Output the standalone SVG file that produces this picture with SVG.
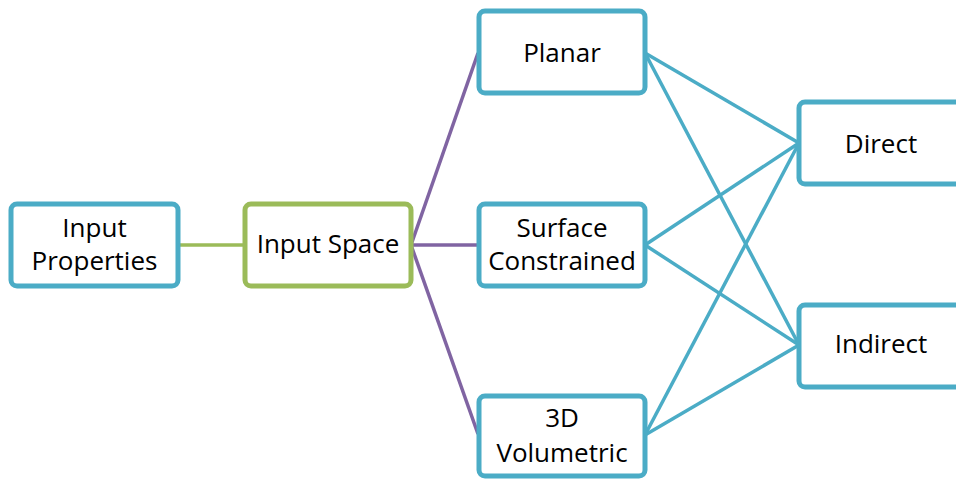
<svg xmlns="http://www.w3.org/2000/svg" width="956" height="479" viewBox="0 0 956 479">
<style>
.box{fill:#fff;stroke-width:5}
.b{stroke:#4BACC6}
.g{stroke:#9BBB59}
.t{font-family:"Open Sans","Noto Sans",sans-serif;font-size:26px;fill:#000;text-anchor:middle}
.cb{stroke:#4BACC6;stroke-width:3.5;fill:none}
.cp{stroke:#8064A2;stroke-width:3.5;fill:none}
.cg{stroke:#9BBB59;stroke-width:3.5;fill:none}
</style>
<rect width="956" height="479" fill="#fff"/>
<g id="connectors">
<line class="cg" x1="178" y1="245" x2="245" y2="245"/>
<line class="cp" x1="411" y1="245" x2="478" y2="53"/>
<line class="cp" x1="411" y1="245" x2="479" y2="245"/>
<line class="cp" x1="411" y1="245" x2="478" y2="434"/>
<line class="cb" x1="645" y1="53" x2="799" y2="143"/>
<line class="cb" x1="645" y1="53" x2="799" y2="345"/>
<line class="cb" x1="645" y1="245" x2="799" y2="143"/>
<line class="cb" x1="645" y1="245" x2="799" y2="345"/>
<line class="cb" x1="645" y1="435" x2="799" y2="143"/>
<line class="cb" x1="645" y1="435" x2="799" y2="345"/>
</g>
<g id="input-properties">
<rect class="box b" x="11" y="204" width="167" height="82" rx="6"/>
<text class="t" x="94.5" y="237">Input</text>
<text class="t" x="94.5" y="270">Properties</text>
</g>
<g id="input-space">
<rect class="box g" x="245" y="204" width="166" height="82" rx="6"/>
<text class="t" x="328" y="253">Input Space</text>
</g>
<g id="planar">
<rect class="box b" x="479" y="11" width="166" height="82" rx="6"/>
<text class="t" x="562" y="62">Planar</text>
</g>
<g id="surface-constrained">
<rect class="box b" x="479" y="204" width="166" height="82" rx="6"/>
<text class="t" x="562" y="237">Surface</text>
<text class="t" x="562" y="270">Constrained</text>
</g>
<g id="volumetric">
<rect class="box b" x="479" y="396" width="166" height="80" rx="6"/>
<text class="t" x="562" y="427">3D</text>
<text class="t" x="562" y="462">Volumetric</text>
</g>
<g id="direct">
<rect class="box b" x="799" y="102" width="170" height="82" rx="6"/>
<text class="t" x="881" y="153">Direct</text>
</g>
<g id="indirect">
<rect class="box b" x="799" y="305" width="170" height="82" rx="6"/>
<text class="t" x="881" y="353">Indirect</text>
</g>
</svg>
